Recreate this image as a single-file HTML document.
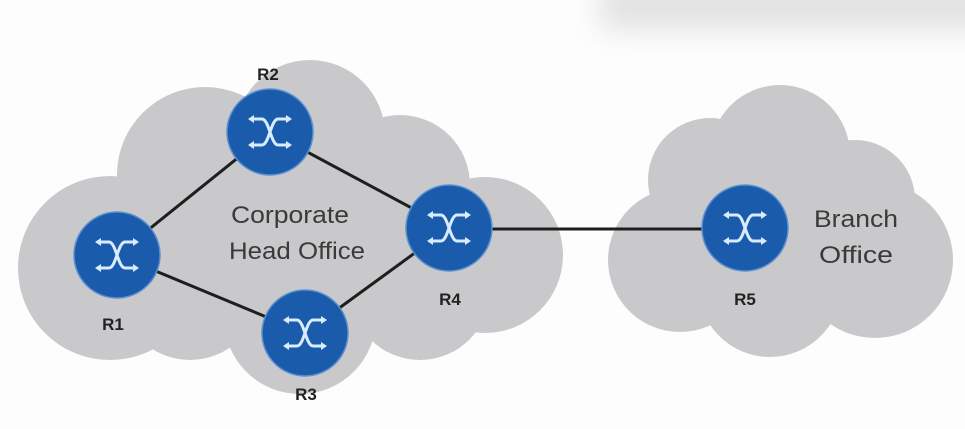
<!DOCTYPE html>
<html><head><meta charset="utf-8"><style>
html,body{margin:0;padding:0;background:#fff;}
svg{display:block}
text{font-family:"Liberation Sans",sans-serif;}
</style></head><body>
<svg width="965" height="429" viewBox="0 0 965 429" xmlns="http://www.w3.org/2000/svg">
<defs>
<filter id="bl" x="-20%" y="-100%" width="140%" height="300%"><feGaussianBlur stdDeviation="14"/></filter>
<g id="rt">
<circle r="43" fill="#1a5bab" stroke="#5a8fd0" stroke-width="1.5"/>
<g fill="none" stroke="#d9ecff" stroke-width="3" stroke-linecap="round">
<path d="M-19,-13 H-8 C-1,-13 1,13 8,13 H19"/>
<path d="M-19,13 H-8 C-1,13 1,-13 8,-13 H19"/>
</g>
<g fill="#d9ecff">
<path d="M22,-13 l-6,-4 v8z"/><path d="M22,13 l-6,-4 v8z"/>
<path d="M-22,-13 l6,-4 v8z"/><path d="M-22,13 l6,-4 v8z"/>
</g>
</g>
</defs>
<rect width="965" height="429" fill="#fdfdfd"/>
<rect x="600" y="-20" width="400" height="50" fill="#e2e2e2" filter="url(#bl)"/>
<g fill="#c9c9cb">
<circle cx="110" cy="268" r="92"/>
<circle cx="205" cy="175" r="88"/>
<circle cx="310" cy="135" r="75"/>
<circle cx="400" cy="185" r="70"/>
<circle cx="485" cy="255" r="78"/>
<circle cx="300" cy="318" r="76"/>
<circle cx="190" cy="290" r="70"/>
<circle cx="420" cy="290" r="70"/>
<rect x="120" y="170" width="340" height="150"/>
<circle cx="710" cy="180" r="62"/>
<circle cx="780" cy="155" r="70"/>
<circle cx="855" cy="200" r="60"/>
<circle cx="875" cy="260" r="78"/>
<circle cx="680" cy="260" r="72"/>
<circle cx="770" cy="285" r="72"/>
<rect x="690" y="180" width="180" height="120"/>
</g>
<g stroke="#1e1e1e" stroke-width="3">
<line x1="117" y1="255" x2="270" y2="132"/>
<line x1="270" y1="132" x2="449" y2="228"/>
<line x1="117" y1="255" x2="305" y2="333"/>
<line x1="305" y1="333" x2="449" y2="228"/>
<line x1="449" y1="229" x2="745" y2="229"/>
</g>
<use href="#rt" x="117" y="255"/>
<use href="#rt" x="270" y="132"/>
<use href="#rt" x="305" y="333"/>
<use href="#rt" x="449" y="228"/>
<use href="#rt" x="745" y="228"/>
<g font-weight="bold" font-size="17" fill="#222" text-anchor="middle">
<text x="268" y="80">R2</text>
<text x="113" y="330">R1</text>
<text x="306" y="400">R3</text>
<text x="450" y="305">R4</text>
<text x="745" y="305">R5</text>
</g>
<g font-size="24" fill="#3a3a3a" text-anchor="middle">
<text x="290" y="223" textLength="118" lengthAdjust="spacingAndGlyphs">Corporate</text>
<text x="297" y="259" textLength="136" lengthAdjust="spacingAndGlyphs">Head  Office</text>
<text x="856" y="227" textLength="84" lengthAdjust="spacingAndGlyphs">Branch</text>
<text x="856" y="263" textLength="74" lengthAdjust="spacingAndGlyphs">Office</text>
</g>
</svg>
</body></html>
